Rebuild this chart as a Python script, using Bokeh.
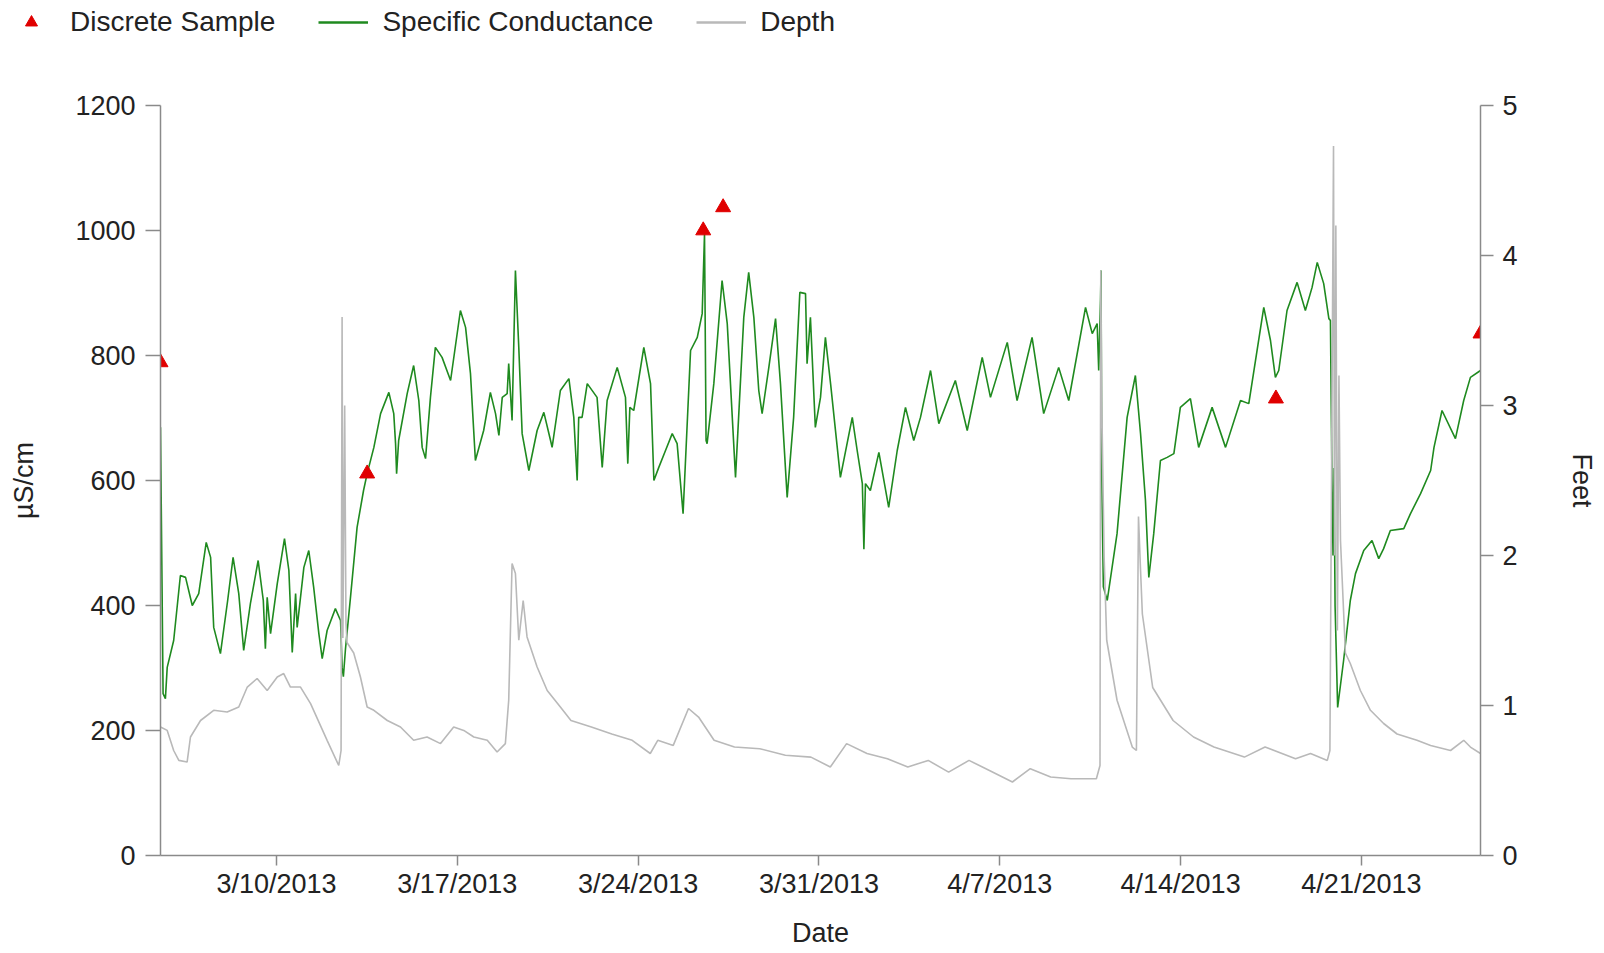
import pandas as pd
from bokeh.plotting import figure
from bokeh.layouts import column
from bokeh.models import Range1d, LinearAxis, FixedTicker, Legend, LegendItem
from bokeh.embed import file_html
from bokeh.resources import INLINE

# ---------------- data (time = days after 2013-03-01 00:00) ----------------
BASE = pd.Timestamp("2013-03-01")

cond_day = [4.51, 4.61, 4.70, 4.77, 5.02, 5.28, 5.48, 5.74, 5.99, 6.28, 6.45, 6.57, 6.83,
            7.11, 7.32, 7.54, 7.73, 7.99, 8.29, 8.49, 8.57, 8.64, 8.77, 9.03, 9.31, 9.48,
            9.61, 9.74, 9.80, 10.06, 10.25, 10.44, 10.64, 10.77, 10.96, 11.28, 11.48, 11.54,
            11.59, 11.67, 11.86, 12.12, 12.37, 12.51, 12.77, 13.03, 13.35, 13.54, 13.61,
            13.65, 13.73, 14.06, 14.31, 14.51, 14.64, 14.77, 14.96, 15.15, 15.41, 15.74,
            16.12, 16.32, 16.51, 16.70, 17.02, 17.28, 17.48, 17.61, 17.74, 17.93, 17.99,
            18.12, 18.25, 18.38, 18.51, 18.77, 19.09, 19.35, 19.61, 19.67, 19.99, 20.32,
            20.51, 20.64, 20.70, 20.83, 21.03, 21.41, 21.61, 21.80, 22.19, 22.51, 22.60,
            22.68, 22.83, 23.22, 23.48, 23.61, 23.80, 24.06, 24.32, 24.51, 24.74, 25.03,
            25.29, 25.48, 25.57, 25.63, 25.67, 25.93, 26.25, 26.45, 26.77, 27.09, 27.28,
            27.48, 27.67, 27.80, 28.06, 28.32, 28.51, 28.77, 29.02, 29.26, 29.48, 29.54,
            29.67, 29.86, 30.06, 30.25, 30.45, 30.83, 31.29, 31.48, 31.68, 31.74, 31.80,
            31.99, 32.32, 32.70, 33.03, 33.35, 33.67, 33.93, 34.32, 34.64, 35.28, 35.74,
            36.32, 36.64, 37.29, 37.67, 38.25, 38.70, 39.28, 39.67, 40.32, 40.58, 40.77,
            40.83, 40.90, 40.92, 40.95, 41.01, 41.16, 41.54, 41.93, 42.25, 42.45, 42.64,
            42.77, 42.96, 43.22, 43.48, 43.74, 43.99, 44.38, 44.70, 45.22, 45.74, 46.32,
            46.64, 47.22, 47.48, 47.67, 47.80, 48.12, 48.51, 48.83, 49.09, 49.29, 49.54,
            49.74, 49.80, 49.86, 49.90, 49.94, 49.98, 50.08, 50.31, 50.57, 50.77, 51.09,
            51.41, 51.67, 51.86, 52.12, 52.64, 52.90, 53.29, 53.68, 53.81, 54.12, 54.64,
            54.96, 55.22, 55.61]
cond_value = [685, 259, 251, 301, 344, 448, 445, 400, 419, 501, 477, 365, 323,
              408, 477, 419, 328, 403, 472, 408, 331, 413, 355, 435, 507, 456,
              325, 419, 365, 461, 488, 429, 355, 315, 360, 395, 376, 301,
              286, 330, 411, 525, 584, 611, 653, 707, 741, 707, 659,
              611, 664, 739, 784, 728, 653, 635, 733, 813, 797, 760,
              872, 845, 771, 632, 680, 741, 707, 672, 733, 739, 787,
              696, 936, 813, 675, 616, 680, 709, 664, 653, 744, 763,
              701, 600, 701, 701, 755, 733, 621, 728, 781, 733, 627,
              717, 712, 813, 755, 600, 621, 648, 675, 659, 547, 808,
              829, 867, 995, 664, 659, 755, 920, 851, 605, 861, 933,
              861, 744, 707, 781, 859, 755, 573, 701, 901, 899, 787,
              861, 685, 733, 829, 755, 605, 701, 648, 595, 490, 595,
              584, 645, 557, 648, 717, 664, 701, 776, 691, 760, 680,
              797, 733, 821, 728, 829, 707, 781, 728, 877, 835, 851,
              776, 888, 936, 600, 430, 408, 515, 701, 768, 675, 568,
              445, 515, 632, 637, 643, 717, 731, 653, 717, 653, 728,
              723, 877, 824, 765, 776, 872, 917, 872, 909, 949, 915,
              859, 856, 600, 480, 620, 400, 237, 312, 408, 451, 488,
              504, 475, 491, 520, 523, 547, 579, 616, 653, 712, 667,
              728, 765, 776]

depth_day = [4.51, 4.77, 5.02, 5.22, 5.54, 5.67, 6.06, 6.57, 7.09, 7.54, 7.87, 8.25, 8.64,
             9.03, 9.28, 9.54, 9.93, 10.32, 10.96, 11.41, 11.50, 11.54, 11.57, 11.64,
             11.69, 11.73, 11.99, 12.25, 12.51, 12.77, 13.29, 13.80, 14.31, 14.83, 15.35,
             15.86, 16.25, 16.64, 17.16, 17.54, 17.86, 17.99, 18.12, 18.25, 18.38, 18.55,
             18.70, 19.09, 19.48, 19.99, 20.40, 21.19, 21.98, 22.77, 23.47, 23.76, 24.36,
             24.95, 25.34, 25.94, 26.73, 27.71, 28.70, 29.69, 30.44, 31.07, 31.86, 32.65,
             33.44, 34.23, 35.02, 35.81, 36.60, 37.49, 38.18, 38.97, 39.76, 40.74, 40.88,
             40.91, 40.95, 41.04, 41.14, 41.54, 42.13, 42.29, 42.37, 42.45, 42.52, 42.92,
             43.71, 44.50, 45.29, 46.47, 47.27, 48.45, 49.03, 49.68, 49.78, 49.92, 49.96,
             50.01, 50.07, 50.13, 50.19, 50.38, 50.57, 50.96, 51.35, 51.86, 52.38, 53.15,
             53.68, 54.45, 54.96, 55.22, 55.61]
depth_ft = [0.857, 0.834, 0.70, 0.634, 0.623, 0.79, 0.90, 0.968, 0.957, 0.99, 1.123, 1.18, 1.10,
            1.19, 1.213, 1.123, 1.123, 1.013, 0.768, 0.60, 0.70, 3.59, 1.45, 3.0,
            1.55, 1.42, 1.35, 1.19, 0.99, 0.968, 0.90, 0.857, 0.768, 0.79, 0.746,
            0.857, 0.834, 0.79, 0.768, 0.69, 0.746, 1.035, 1.947, 1.88, 1.435, 1.70,
            1.457, 1.257, 1.10, 0.99, 0.90, 0.857, 0.81, 0.768, 0.68, 0.768, 0.734,
            0.98, 0.923, 0.768, 0.723, 0.712, 0.668, 0.656, 0.59, 0.746, 0.68, 0.645,
            0.59, 0.634, 0.556, 0.634, 0.567, 0.49, 0.579, 0.523, 0.512, 0.512, 0.60,
            3.9, 3.0, 1.99, 1.435, 1.035, 0.723, 0.70, 2.26, 1.90, 1.61, 1.12,
            0.90, 0.79, 0.723, 0.656, 0.723, 0.645, 0.68, 0.634, 0.70, 4.73, 2.0,
            4.2, 1.5, 3.2, 2.1, 1.35, 1.28, 1.10, 0.968, 0.88, 0.81, 0.768,
            0.734, 0.70, 0.768, 0.723, 0.68]

sample_day = [4.51, 12.51, 25.52, 26.29, 47.69, 55.61]
sample_value = [789, 611, 1000, 1037, 731, 835]

x_tick_day = [9, 16, 23, 30, 37, 44, 51]
x_tick_labels = ["3/10/2013", "3/17/2013", "3/24/2013", "3/31/2013",
                 "4/7/2013", "4/14/2013", "4/21/2013"]
y_left_ticks = [0, 200, 400, 600, 800, 1000, 1200]
y_right_ticks = [0, 1, 2, 3, 4, 5]
x_start_day, x_end_day = 4.51, 55.61
legend_labels = ["Discrete Sample", "Specific Conductance", "Depth"]

# ---------------- styles ----------------
FONT = "Liberation Sans, Arial, sans-serif"
TXT = "#222222"
AX = "#8a8a8a"
GREEN = "#1f8a1f"
GRAY = "#b9b9b9"
RED = "#e00000"

TOTAL_W = 1600
LEG_H = 55
MAIN_H = 895


def to_dt(days):
    return [BASE + pd.to_timedelta(d, unit="D") for d in days]


def to_ms(days):
    return [float((BASE + pd.to_timedelta(d, unit="D")).value // 1_000_000) for d in days]


# ---------------- legend strip ----------------
lf = figure(width=TOTAL_W, height=LEG_H, x_range=Range1d(0, 1), y_range=Range1d(0, 1),
            x_axis_location=None, y_axis_location=None,
            output_backend="svg", toolbar_location=None,
            min_border=0, min_border_left=0, min_border_right=0,
            min_border_top=0, min_border_bottom=0)
lf.frame_align = False
lf.outline_line_color = None
lf.xgrid.visible = False
lf.ygrid.visible = False
# legend-only renderers (kept outside the visible range)
l_s = lf.scatter([5], [5], marker="triangle", size=15, fill_color=RED, line_color=RED)
l_c = lf.line([5, 6], [5, 5], line_color=GREEN, line_width=2.4)
l_d = lf.line([5, 6], [5, 5], line_color=GRAY, line_width=2.4)
legend = Legend(items=[LegendItem(label=legend_labels[0], renderers=[l_s]),
                       LegendItem(label=legend_labels[1], renderers=[l_c]),
                       LegendItem(label=legend_labels[2], renderers=[l_d])],
                orientation="horizontal", location="top_left",
                padding=0, margin=6, spacing=43,
                glyph_width=50, glyph_height=30, label_height=30,
                label_standoff=14,
                label_text_font=FONT, label_text_font_size="28px",
                label_text_color=TXT,
                border_line_color=None, background_fill_alpha=0)
lf.add_layout(legend, "center")

# ---------------- main chart ----------------
p = figure(width=TOTAL_W, height=MAIN_H, x_axis_type="datetime",
           x_range=Range1d(*to_dt([x_start_day, x_end_day])),
           y_range=Range1d(0, 1200),
           output_backend="svg", toolbar_location=None,
           min_border_left=160, min_border_right=TOTAL_W - 1480,
           min_border_top=105 - LEG_H, min_border_bottom=MAIN_H - (855 - LEG_H))
p.frame_align = False
p.extra_y_ranges = {"depth": Range1d(0, 5)}
p.outline_line_color = None
p.xgrid.visible = False
p.ygrid.visible = False

r_c = p.line(to_dt(cond_day), cond_value, line_color=GREEN, line_width=1.6)
r_d = p.line(to_dt(depth_day), depth_ft, line_color=GRAY, line_width=1.6,
             y_range_name="depth")
r_s = p.scatter(to_dt(sample_day), sample_value, marker="triangle", size=15,
                fill_color=RED, line_color=RED)

ax2 = LinearAxis(y_range_name="depth", axis_label="Feet",
                 ticker=FixedTicker(ticks=y_right_ticks))
p.add_layout(ax2, "right")

xt = to_ms(x_tick_day)
p.xaxis.ticker = FixedTicker(ticks=xt)
p.xaxis.major_label_overrides = {t: lab for t, lab in zip(xt, x_tick_labels)}
p.xaxis.axis_label = "Date"
p.yaxis[0].ticker = FixedTicker(ticks=y_left_ticks)
p.yaxis[0].axis_label = "µS/cm"

for ax in [p.xaxis[0], p.yaxis[0], ax2]:
    ax.axis_line_color = AX
    ax.axis_line_width = 1.5
    ax.major_tick_line_color = AX
    ax.major_tick_line_width = 1.5
    ax.minor_tick_line_color = None
    ax.major_tick_in = 0
    ax.major_label_text_font = FONT
    ax.major_label_text_font_size = "27px"
    ax.major_label_text_color = TXT
    ax.axis_label_text_font = FONT
    ax.axis_label_text_font_size = "27px"
    ax.axis_label_text_font_style = "normal"
    ax.axis_label_text_color = TXT

p.xaxis.major_tick_out = 10
p.xaxis.major_label_standoff = 3
p.xaxis.axis_label_standoff = 16
p.yaxis[0].major_tick_out = 15
p.yaxis[0].major_label_standoff = 10
p.yaxis[0].axis_label_standoff = 33
ax2.major_tick_out = 13
ax2.major_label_standoff = 9
ax2.axis_label_standoff = 46

layout = column(lf, p, spacing=0)
open("out.html", "w").write(file_html(layout, INLINE))
